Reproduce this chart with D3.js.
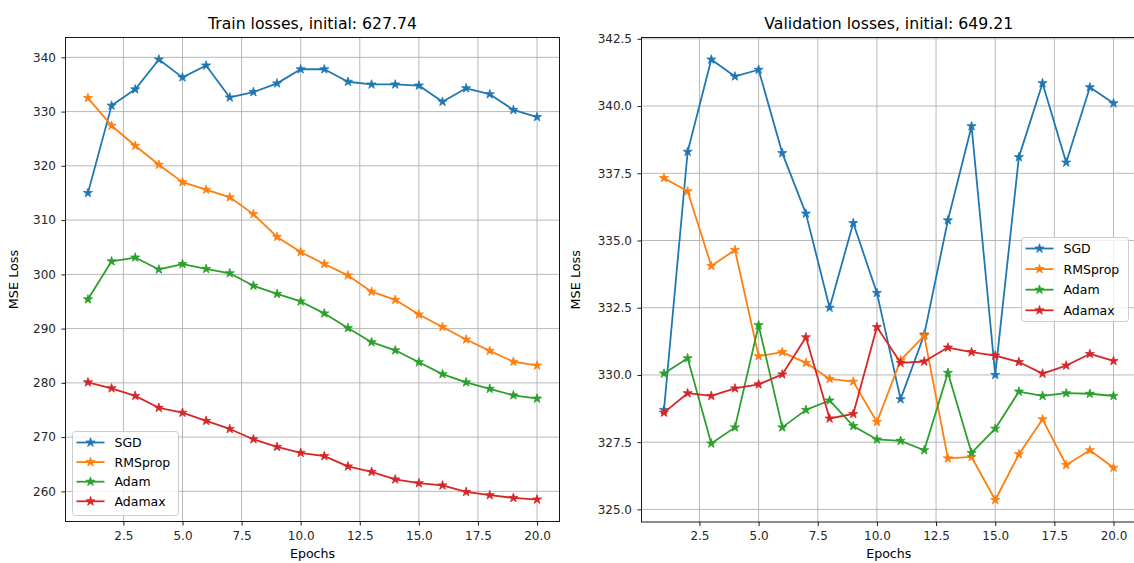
<!DOCTYPE html>
<html>
<head>
<meta charset="utf-8">
<script src="https://cdn.jsdelivr.net/npm/d3@7"></script>
<style>
  html, body { margin: 0; padding: 0; background: #ffffff; }
  svg { display: block; font-family: "DejaVu Sans", sans-serif; }
</style>
</head>
<body>
<svg id="chart" width="1134" height="563"></svg>
<script>
// Epoch index shared by every series
const epochs = d3.range(1, 21);

const seriesNames = ["SGD", "RMSprop", "Adam", "Adamax"];
const seriesColors = ["#1f77b4", "#ff7f0e", "#2ca02c", "#d62728"];

// Training loss per optimiser
const trainSGD = [315.0, 331.1, 334.1, 339.6, 336.3, 338.5, 332.6, 333.6, 335.2, 337.8,
                  337.8, 335.5, 335.0, 335.0, 334.8, 331.8, 334.3, 333.2, 330.3, 329.0];
const trainRMSprop = [332.5, 327.4, 323.7, 320.2, 317.0, 315.6, 314.2, 311.1, 306.9, 304.1,
                      301.9, 299.8, 296.8, 295.3, 292.6, 290.3, 288.0, 285.9, 283.9, 283.2];
const trainAdam = [295.4, 302.4, 303.1, 300.9, 301.9, 301.0, 300.2, 297.9, 296.4, 295.0,
                   292.8, 290.1, 287.5, 286.0, 283.8, 281.6, 280.1, 278.9, 277.7, 277.1];
const trainAdamax = [280.1, 279.0, 277.6, 275.4, 274.5, 273.0, 271.5, 269.6, 268.2, 267.1,
                     266.5, 264.6, 263.6, 262.2, 261.5, 261.1, 259.9, 259.3, 258.8, 258.5];

// Validation loss per optimiser
const valSGD = [328.7, 338.3, 341.73, 341.1, 341.35, 338.25, 336.0, 332.5, 335.65, 333.05,
                329.1, 331.5, 335.75, 339.25, 330.0, 338.1, 340.85, 337.9, 340.7, 340.1];
const valRMSprop = [337.32, 336.83, 334.05, 334.65, 330.7, 330.85, 330.45, 329.85, 329.75, 328.25,
                    330.55, 331.45, 326.9, 326.95, 325.35, 327.05, 328.35, 326.65, 327.2, 326.55];
const valAdam = [330.05, 330.62, 327.45, 328.05, 331.85, 328.05, 328.7, 329.05, 328.1, 327.6,
                 327.55, 327.2, 330.08, 327.1, 328.0, 329.38, 329.22, 329.32, 329.3, 329.22];
const valAdamax = [328.6, 329.32, 329.22, 329.5, 329.65, 330.02, 331.4, 328.38, 328.55, 331.78,
                   330.45, 330.5, 331.02, 330.85, 330.72, 330.48, 330.05, 330.35, 330.78, 330.52];

const xTicks = [2.5, 5.0, 7.5, 10.0, 12.5, 15.0, 17.5, 20.0];
const trainYTicks = [260, 270, 280, 290, 300, 310, 320, 330, 340];
const valYTicks = [325.0, 327.5, 330.0, 332.5, 335.0, 337.5, 340.0, 342.5];

const svg = d3.select("#chart");

// Domain padded by 5% on each side
function padded(values) {
  const [lo, hi] = d3.extent(values);
  const m = (hi - lo) * 0.05;
  return [lo - m, hi + m];
}

function drawPanel(opts) {
  const { left, right, top, bottom, title, series, yTicks, yFmt, legend } = opts;
  const g = svg.append("g");

  const x = d3.scaleLinear().domain(padded(epochs)).range([left, right]);
  const y = d3.scaleLinear().domain(padded(series.flat())).range([bottom, top]);

  const clipId = "clip" + Math.round(left);
  svg.append("clipPath").attr("id", clipId)
    .append("rect").attr("x", left).attr("y", top - 5)
    .attr("width", right - left).attr("height", bottom - top + 10);

  // grid lines
  const grid = g.append("g").attr("stroke", "#b0b0b0").attr("stroke-width", 0.9);
  xTicks.forEach(t => grid.append("line")
    .attr("x1", x(t)).attr("x2", x(t)).attr("y1", top).attr("y2", bottom));
  yTicks.forEach(t => grid.append("line")
    .attr("x1", left).attr("x2", right).attr("y1", y(t)).attr("y2", y(t)));

  // x axis
  const xAxis = g.append("g").attr("transform", `translate(0,${bottom})`)
    .call(d3.axisBottom(x).tickValues(xTicks).tickFormat(d3.format(".1f"))
      .tickSizeOuter(0).tickSize(4).tickPadding(5.5));
  // y axis
  const yAxis = g.append("g").attr("transform", `translate(${left},0)`)
    .call(d3.axisLeft(y).tickValues(yTicks).tickFormat(yFmt)
      .tickSizeOuter(0).tickSize(4).tickPadding(5.5));
  [xAxis, yAxis].forEach(a => {
    a.select(".domain").remove();
    a.selectAll("line").attr("stroke", "#000").attr("stroke-width", 0.9);
    a.selectAll("text").attr("fill", "#262626").style("font-size", "12px")
      .style("font-family", "'DejaVu Sans', sans-serif");
  });

  // series lines and star markers
  const line = d3.line().x((d, i) => x(epochs[i])).y(d => y(d));
  const star = d3.symbol().type(d3.symbolStar).size(26);
  const plot = g.append("g").attr("clip-path", `url(#${clipId})`);
  series.forEach((vals, k) => {
    plot.append("path").attr("d", line(vals)).attr("fill", "none")
      .attr("stroke", seriesColors[k]).attr("stroke-width", 1.8)
      .attr("stroke-linejoin", "round").attr("stroke-linecap", "square");
    plot.selectAll(null).data(vals).enter().append("path")
      .attr("d", star)
      .attr("transform", (d, i) => `translate(${x(epochs[i])},${y(d)})`)
      .attr("fill", seriesColors[k]).attr("stroke", seriesColors[k]).attr("stroke-width", 0.8);
  });

  // frame
  g.append("rect").attr("x", left).attr("y", top)
    .attr("width", right - left).attr("height", bottom - top)
    .attr("fill", "none").attr("stroke", "#000").attr("stroke-width", 0.9);

  // title and labels
  const cx = (left + right) / 2;
  g.append("text").attr("x", cx).attr("y", 28.5).attr("text-anchor", "middle")
    .style("font-size", "15.7px").attr("fill", "#000").text(title);
  g.append("text").attr("x", cx).attr("y", 557.5).attr("text-anchor", "middle")
    .style("font-size", "12.6px").attr("fill", "#000").text("Epochs");
  g.append("text")
    .attr("transform", `translate(${opts.ylabelX},${(top + bottom) / 2}) rotate(-90)`)
    .attr("text-anchor", "middle").style("font-size", "12.8px").attr("fill", "#000")
    .text("MSE Loss");

  // legend
  const lg = g.append("g").attr("transform", `translate(${legend.x},${legend.y})`);
  lg.append("rect").attr("x", 0).attr("y", 0).attr("width", legend.w).attr("height", legend.h)
    .attr("rx", 3).attr("fill", "#fff").attr("fill-opacity", 0.8)
    .attr("stroke", "#cccccc").attr("stroke-width", 1);
  seriesNames.forEach((name, k) => {
    const yy = legend.first + k * legend.step;
    lg.append("line").attr("x1", 4).attr("x2", 32).attr("y1", yy).attr("y2", yy)
      .attr("stroke", seriesColors[k]).attr("stroke-width", 1.8);
    lg.append("path").attr("d", star).attr("transform", `translate(18,${yy})`)
      .attr("fill", seriesColors[k]).attr("stroke", seriesColors[k]).attr("stroke-width", 0.8);
    lg.append("text").attr("x", 42).attr("y", yy + 4.5)
      .style("font-size", "12.5px").attr("fill", "#000").text(name);
  });
}

drawPanel({
  left: 65.5, right: 559.5, top: 37.5, bottom: 521.5,
  title: "Train losses, initial: 627.74",
  series: [trainSGD, trainRMSprop, trainAdam, trainAdamax],
  yTicks: trainYTicks, yFmt: d3.format("d"), ylabelX: 18,
  legend: { x: 72.5, y: 431.5, w: 106, h: 84, first: 11, step: 19.6 }
});

drawPanel({
  left: 641.5, right: 1136, top: 37.5, bottom: 522,
  title: "Validation losses, initial: 649.21",
  series: [valSGD, valRMSprop, valAdam, valAdamax],
  yTicks: valYTicks, yFmt: d3.format(".1f"), ylabelX: 579.5,
  legend: { x: 1021.5, y: 237.5, w: 107, h: 84, first: 11, step: 20.6 }
});
</script>
</body>
</html>
